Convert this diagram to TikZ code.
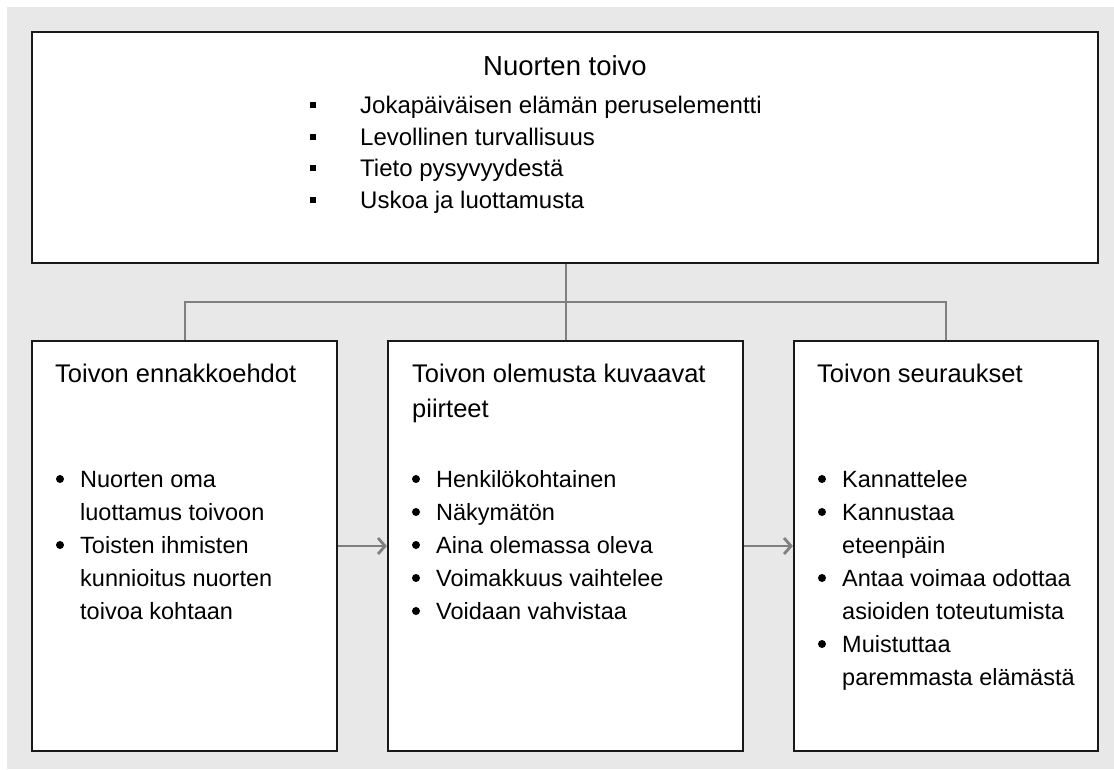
\documentclass[tikz,border=0pt]{standalone}
\usepackage{fontspec}
\setmainfont{Liberation Sans}
\usetikzlibrary{arrows.meta}
\definecolor{panel}{HTML}{E8E8E8}
\definecolor{linkgray}{HTML}{808080}
\tikzset{
  box/.style={draw=black!90, line width=2.2pt, fill=white, inner sep=0pt},
  link/.style={draw=linkgray, line width=2pt},
  flow/.style={draw=linkgray, line width=2.8pt, -{Straight Barb[length=7pt,width=16pt]}},
  headtxt/.style={anchor=base, inner sep=0pt, font=\fontsize{27.5}{32}\selectfont},
  titletxt/.style={anchor=base west, inner sep=0pt, font=\fontsize{25.5}{35}\selectfont},
  toptxt/.style={anchor=base west, inner sep=0pt, font=\fontsize{24}{32}\selectfont},
  itemtxt/.style={anchor=base west, inner sep=0pt, font=\fontsize{23.5}{33}\selectfont},
  dot/.style={circle, fill=black, inner sep=0pt, minimum size=8pt},
  sqmark/.style={rectangle, fill=black, inner sep=0pt, minimum size=6pt}
}
\begin{document}
\begin{tikzpicture}[x=1pt, y=-1pt]
\useasboundingbox (0,0) rectangle (1114,769);
\fill[panel] (7,7) rectangle (1114,769);

% boxes
\node[box, minimum width=1066pt, minimum height=231pt] (top) at (565,147.5) {};
\node[box, minimum width=305pt, minimum height=410pt] (left) at (184.5,546) {};
\node[box, minimum width=355pt, minimum height=410pt] (mid) at (565.5,546) {};
\node[box, minimum width=304pt, minimum height=410pt] (right) at (946,546) {};

% tree connectors
\coordinate (hub) at (565.5,302);
\draw[link] (top.south -| hub) -- (hub) -- (mid.north);
\draw[link] (hub) -| (left.north);
\draw[link] (hub) -| (right.north);

% flow arrows
\draw[flow] (left.east) -- (mid.west);
\draw[flow] (mid.east) -- (right.west);

% top box
\node[headtxt] (toptitle) at (565,75) {Nuorten toivo};
\node[sqmark] (s1) at (313,105) {};
\node[toptxt] (t1) at (360,113) {Jokapäiväisen elämän peruselementti};
\node[sqmark] (s2) at (313,137) {};
\node[toptxt] (t2) at (360,145) {Levollinen turvallisuus};
\node[sqmark] (s3) at (313,168) {};
\node[toptxt] (t3) at (360,176) {Tieto pysyvyydestä};
\node[sqmark] (s4) at (313,200) {};
\node[toptxt] (t4) at (360,208) {Uskoa ja luottamusta};

% left box
\node[titletxt] (lt) at (55,382) {Toivon ennakkoehdot};
\node[dot] (ld1) at (60,479) {};
\node[itemtxt] (l1) at (80,487) {Nuorten oma};
\node[itemtxt] (l2) at (80,520) {luottamus toivoon};
\node[dot] (ld2) at (60,545) {};
\node[itemtxt] (l3) at (80,553) {Toisten ihmisten};
\node[itemtxt] (l4) at (80,586) {kunnioitus nuorten};
\node[itemtxt] (l5) at (80,619) {toivoa kohtaan};

% middle box
\node[titletxt] (mt1) at (412,382) {Toivon olemusta kuvaavat};
\node[titletxt] (mt2) at (412,417) {piirteet};
\node[dot] (md1) at (416,479) {};
\node[itemtxt] (m1) at (436,487) {Henkilökohtainen};
\node[dot] (md2) at (416,512) {};
\node[itemtxt] (m2) at (436,520) {Näkymätön};
\node[dot] (md3) at (416,545) {};
\node[itemtxt] (m3) at (436,553) {Aina olemassa oleva};
\node[dot] (md4) at (416,578) {};
\node[itemtxt] (m4) at (436,586) {Voimakkuus vaihtelee};
\node[dot] (md5) at (416,611) {};
\node[itemtxt] (m5) at (436,619) {Voidaan vahvistaa};

% right box
\node[titletxt] (rt) at (817,382) {Toivon seuraukset};
\node[dot] (rd1) at (822,479) {};
\node[itemtxt] (r1) at (842,487) {Kannattelee};
\node[dot] (rd2) at (822,512) {};
\node[itemtxt] (r2) at (842,520) {Kannustaa};
\node[itemtxt] (r3) at (842,553) {eteenpäin};
\node[dot] (rd3) at (822,578) {};
\node[itemtxt] (r4) at (842,586) {Antaa voimaa odottaa};
\node[itemtxt] (r5) at (842,619) {asioiden toteutumista};
\node[dot] (rd4) at (822,644) {};
\node[itemtxt] (r6) at (842,652) {Muistuttaa};
\node[itemtxt] (r7) at (842,685) {paremmasta elämästä};
\end{tikzpicture}
\end{document}
